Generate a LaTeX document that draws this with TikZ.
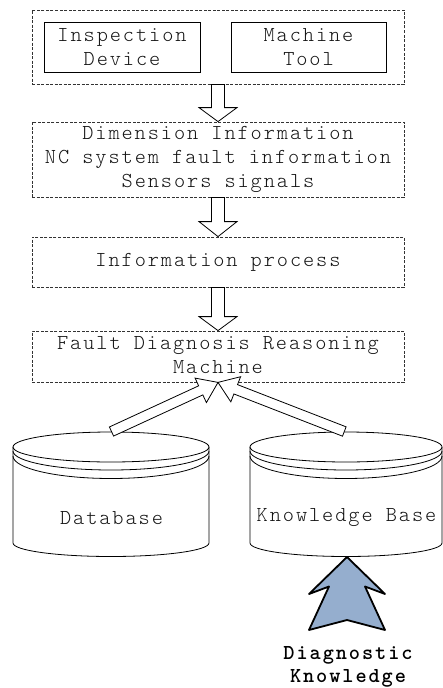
\documentclass[tikz,border=0pt]{standalone}
\usepackage{fontspec}
\newfontfamily\labelfont{lmmonolt10-regular.otf}[LetterSpace=9]
\newfontfamily\knowfont{lmmonolt10-bold.otf}[LetterSpace=9]
\usetikzlibrary{calc}
\definecolor{arrowblue}{RGB}{149,174,206}
\definecolor{ink}{RGB}{20,20,20}

\tikzset{
  every node/.style={font=\labelfont\fontsize{21.3}{24}\selectfont,
    text=ink, align=center, inner sep=0pt},
  group/.style={draw=black!80, dash pattern=on 3pt off 1.5pt, line width=0.8pt},
  device/.style={draw=black, line width=0.8pt},
  hollow/.style={draw=black, fill=white, line width=0.8pt, line join=miter},
  dbline/.style={draw=black, line width=0.8pt},
  knowarrow/.style={draw=black, fill=arrowblue, line width=1.8pt, line join=round},
  knowtext/.style={font=\knowfont\fontsize{21.3}{23.3}\selectfont, text=black},
}

% hollow block arrow: #1 tail, #2 tip, #3 half shaft width,
% #4 half head width, #5 head length
\newcommand\blockarrow[5]{%
  \path ($(#2)!#5!(#1)$) coordinate (ba-base);
  \draw[hollow] ($(#1)!#3!90:(#2)$) -- ($(ba-base)!#3!90:(#2)$)
    -- ($(ba-base)!#4!90:(#2)$) -- (#2) -- ($(ba-base)!#4!-90:(#2)$)
    -- ($(ba-base)!#3!-90:(#2)$) -- ($(#1)!#3!-90:(#2)$) -- cycle;
}

% stacked-disk cylinder: #1 centre x, #2 top-ellipse centre y,
% #3 bottom y, #4 x radius (y grows downwards, so the lower
% half of an arc runs through 90 degrees)
\newcommand\diskstack[4]{%
  \draw[dbline] (#1,#2) ellipse [x radius=#4, y radius=15];
  \draw[dbline] (#1-#4,#2+4) arc [start angle=180, end angle=0, x radius=#4, y radius=19];
  \draw[dbline] (#1-#4,#2+9) arc [start angle=180, end angle=0, x radius=#4, y radius=22.5];
  \draw[dbline] (#1-#4,#2) -- (#1-#4,#3)
    arc [start angle=180, end angle=0, x radius=#4, y radius=13.5]
    -- (#1+#4,#2);
}

\begin{document}
\begin{tikzpicture}[x=1pt, y=-1pt]
\useasboundingbox (0,0) rectangle (442,688);

% sources
\node[group, minimum width=372pt, minimum height=74pt] (src) at (218,47) {};
\node[device, minimum width=156pt, minimum height=50pt] (insp) at (122,47)
  {Inspection\\Device};
\node[device, minimum width=155pt, minimum height=50pt] (mach) at (308.5,47)
  {Machine\\Tool};

% collected information
\node[group, minimum width=372pt, minimum height=75pt] (info) at (218,159.5)
  {Dimension Information\\NC system fault information\\Sensors signals};

% processing
\node[group, minimum width=372pt, minimum height=50pt] (proc) at (218,262)
  {Information process};

% reasoning
\node[group, minimum width=372pt, minimum height=51pt] (reason) at (218,356.5) {};
\node (reasontext) at (218,355) {Fault Diagnosis Reasoning\\Machine};

% flow arrows
\blockarrow{src.south}{info.north}{6.5pt}{19pt}{14pt}
\blockarrow{info.south}{proc.north}{6.5pt}{19pt}{15pt}
\blockarrow{proc.south}{reason.north}{6.5pt}{19pt}{14pt}

% stores
\diskstack{111}{447}{543}{98}
\diskstack{346}{447}{543}{96}
\node (db) at (111.5,518) {Database};
\node (kb) at (346.5,518) {Knowledge Base};
\coordinate (dbtop) at (111.5,431.5);
\coordinate (kbtop) at (344.3,431.5);
\coordinate (kbbot) at (347,557);

\blockarrow{dbtop}{reason.south}{5pt}{13.5pt}{19pt}
\blockarrow{kbtop}{reason.south}{5pt}{13.5pt}{19pt}

% knowledge input
\node[knowtext] (dk) at (348,667) {Diagnostic\\Knowledge};
\draw[knowarrow, shift={(kbbot)}] (0,0) -- (38,37) -- (18,29.5) -- (38,73)
  -- (0,63) -- (-38,73) -- (-18,29.5) -- (-38,37) -- cycle;
\end{tikzpicture}
\end{document}
